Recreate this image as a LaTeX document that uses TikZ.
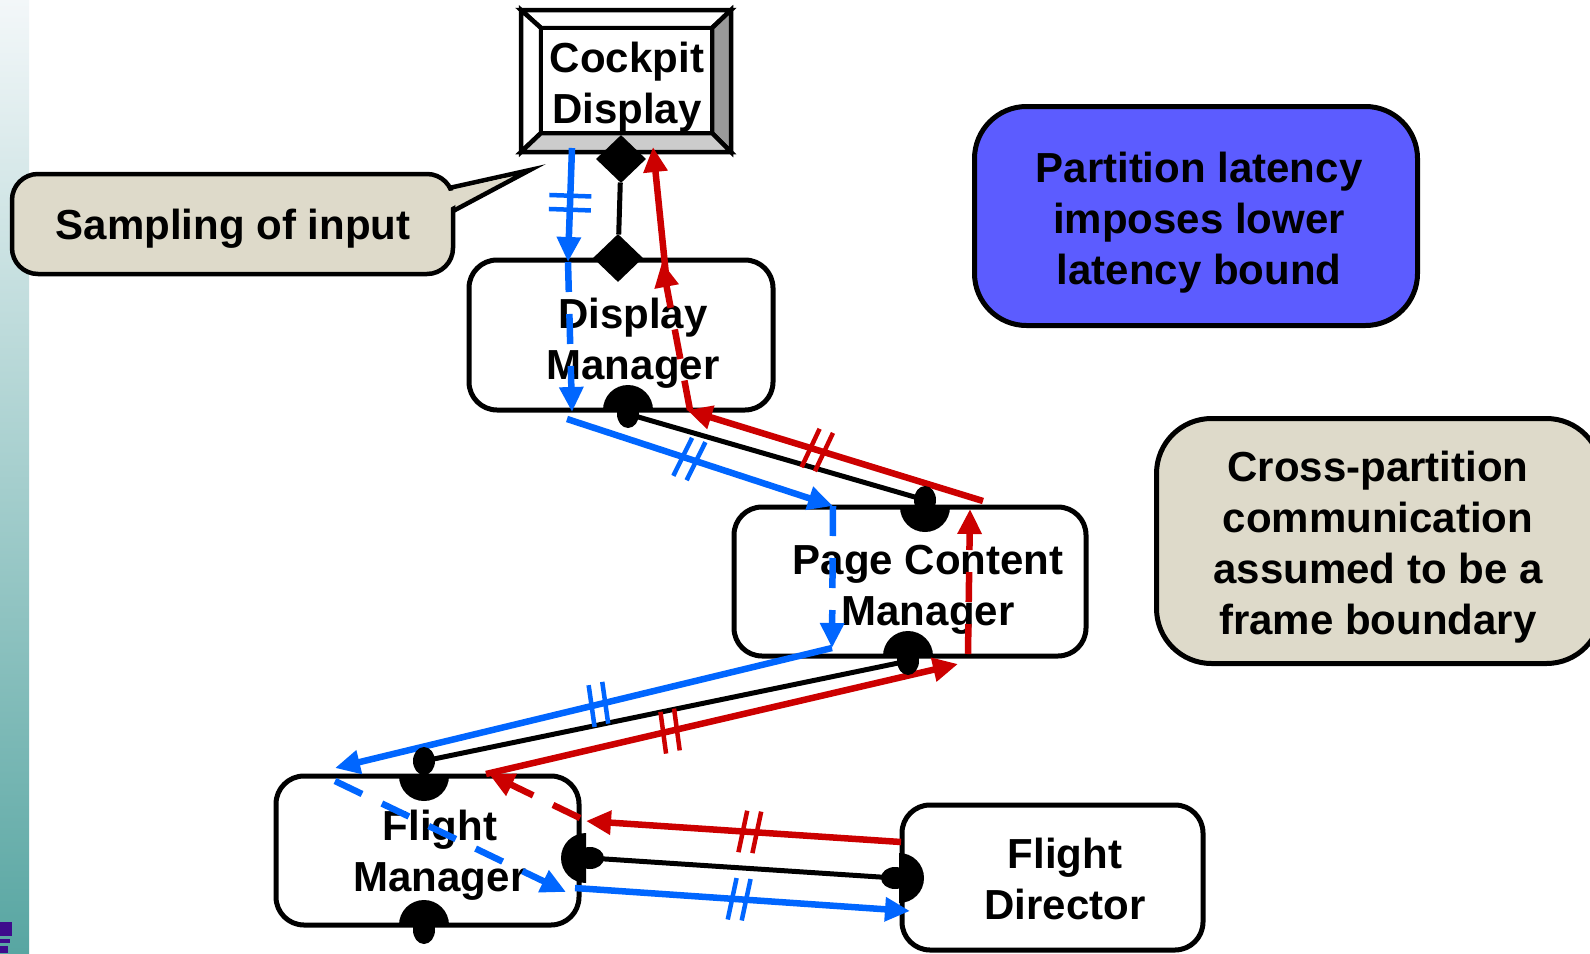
\documentclass[tikz,border=0pt]{standalone}
\usepackage{fontspec}
\setmainfont{Liberation Sans}
\usetikzlibrary{arrows.meta,decorations.markings,shapes.geometric}

\definecolor{flowblue}{RGB}{0,102,255}
\definecolor{flowred}{RGB}{204,0,0}
\definecolor{notetan}{RGB}{222,218,202}
\definecolor{noteblue}{RGB}{92,92,255}
\definecolor{bevelgray}{RGB}{153,153,153}
\definecolor{bevellight}{RGB}{204,204,204}
\definecolor{striptop}{RGB}{243,247,249}
\definecolor{stripbottom}{RGB}{88,166,162}
\definecolor{iconpurple}{RGB}{62,12,140}

\tikzset{
  lbl/.style={font=\fontsize{42}{51}\selectfont\bfseries, align=center, inner sep=0pt},
  comp/.style={draw, line width=5pt, rounded corners=28pt, fill=white, inner sep=0pt},
  notebox/.style={draw, line width=5pt, inner sep=0pt},
  flow/.style={line width=6.5pt, -{Triangle[length=25pt,width=23pt]}},
  bflow/.style={flow, draw=flowblue},
  rflow/.style={flow, draw=flowred},
  inside/.style={dash pattern=on 30pt off 22pt},
  brk/.style n args={3}{postaction={decorate},
    decoration={markings, mark=at position #1 with {
      \draw[-, draw=#2, line width=4.5pt, solid]
        (-7pt-#3,-21pt) -- (-7pt+#3,21pt)
        (7pt-#3,-21pt) -- (7pt+#3,21pt);}}},
  link/.style={line width=5pt},
  portsym/.pic={
    \fill (-25pt,0pt) arc[start angle=180,end angle=0,radius=25pt] -- cycle;
    \fill (0pt,-#1) ellipse[x radius=11pt,y radius=14pt];},
  ioport/.style={diamond, fill=black, minimum width=50pt, minimum height=48pt, inner sep=0pt},
}

\begin{document}
\begin{tikzpicture}[x=1pt,y=-1pt]
\useasboundingbox (0,0) rectangle (1590,953);
\clip (0,0) rectangle (1590,953);
\fill[white] (0,0) rectangle (1590,953);

% side strip and logo corner
\shade[top color=striptop, bottom color=stripbottom] (0,0) rectangle (29,953);
\fill[iconpurple] (0,922) rectangle (12,936);
\fill[iconpurple] (0,939) rectangle (10,943);
\fill[iconpurple] (0,946) rectangle (8,953);

% notes
\node[notebox, fill=noteblue, rounded corners=52pt, minimum width=443pt, minimum height=219pt] (latency) at (1196,216) {};
\node[lbl] (latencyText) at (1199,223) {Partition latency\\imposes lower\\latency bound};

\node[notebox, fill=notetan, rounded corners=55pt, minimum width=445pt, minimum height=245pt] (frame) at (1379,541) {};
\node[lbl] (frameText) at (1378,547) {Cross-partition\\communication\\assumed to be a\\frame boundary};

% sampling callout: pointer, body, then patch over the joint
\filldraw[fill=notetan, line width=4.5pt, line join=miter] (440,190) -- (530,170) -- (440,218) -- cycle;
\filldraw[fill=notetan, line width=4.5pt, rounded corners=26pt] (12,174) rectangle (453,274);
\fill[notetan] (446,192) -- (505,178) -- (446,210) -- cycle;
\node[lbl] (sampling) at (233,229) {Sampling of input};

% cockpit display with bevelled frame
\begin{scope}[line width=4.5pt, line join=miter]
  \filldraw[fill=white] (521,10) -- (731,10) -- (712,28) -- (541,28) -- cycle;
  \filldraw[fill=white] (521,10) -- (541,28) -- (541,133) -- (521,152) -- cycle;
  \filldraw[fill=bevelgray] (731,10) -- (731,152) -- (712,133) -- (712,28) -- cycle;
  \filldraw[fill=bevellight] (521,152) -- (731,152) -- (712,133) -- (541,133) -- cycle;
  \filldraw[fill=white] (541,28) rectangle (712,133);
\end{scope}
\node[lbl] (cd) at (627,87) {Cockpit\\Display};

% components
\node[comp, minimum width=304pt, minimum height=150pt] (dm) at (621,335) {};
\node[lbl] (dmText) at (633,343) {Display\\Manager};
\node[comp, minimum width=352pt, minimum height=149pt] (pcm) at (910,581.5) {};
\node[lbl] (pcmText) at (928,590) {Page Content\\Manager};
\node[comp, minimum width=303pt, minimum height=149pt] (fm) at (427.5,850.5) {};
\node[lbl] (fmText) at (440,855) {Flight\\Manager};
\node[comp, minimum width=301pt, minimum height=145pt] (fd) at (1052.5,877.5) {};
\node[lbl] (fdText) at (1065,879) {Flight\\Director};

% port positions
\node[ioport] (cdPort) at (621,159) {};
\node[ioport] (dmPortIn) at (618,258) {};
\coordinate (dmPortOut) at (628,414);
\coordinate (pcmPortIn) at (925,500);
\coordinate (pcmPortOut) at (908,661);
\coordinate (fmPortIn) at (424,761);
\coordinate (fmPortOut) at (590,858);
\coordinate (fdPort) at (895,878);

% port connections
\draw[link] (cdPort) -- (dmPortIn);
\draw[link] (dmPortOut) -- (pcmPortIn);
\draw[link] (pcmPortOut) -- (fmPortIn);
\draw[link] (fmPortOut) -- (fdPort);

% flow end points
\coordinate (b1s) at (572,148);  \coordinate (b1e) at (568,262);
\coordinate (b2e) at (572,412);
\coordinate (b3s) at (567,419);  \coordinate (b3e) at (833,506);
\coordinate (b4e) at (832,648);
\coordinate (b5e) at (335,768);
\coordinate (b6s) at (335,781);  \coordinate (b6e) at (566,892);
\coordinate (b7s) at (575,888);  \coordinate (b7e) at (910,911);

\coordinate (r1s) at (901,842);  \coordinate (r1e) at (586,821);
\coordinate (r2s) at (580,818);  \coordinate (r2e) at (489,774);
\coordinate (r3s) at (486,774);  \coordinate (r3e) at (958,664);
\coordinate (r4s) at (968,654);  \coordinate (r4e) at (970,509);
\coordinate (r5s) at (983,501);  \coordinate (r5e) at (687,410);
\coordinate (r6s) at (690,410);  \coordinate (r6e) at (662,262);
\coordinate (r7s) at (666,275);  \coordinate (r7e) at (653,147);

% downward (blue) flow
\draw[bflow, brk={0.48}{flowblue}{0pt}] (b1s) -- (b1e);
\draw[bflow, inside] (b1e) -- (b2e);
\draw[bflow, brk={0.46}{flowblue}{3pt}] (b3s) -- (b3e);
\draw[bflow, inside] (b3e) -- (b4e);
\draw[bflow, brk={0.47}{flowblue}{2pt}] (b4e) -- (b5e);
\draw[bflow, inside] (b6s) -- (b6e);
\draw[bflow, brk={0.49}{flowblue}{3pt}] (b7s) -- (b7e);

% upward (red) flow
\draw[rflow, brk={0.48}{flowred}{3pt}] (r1s) -- (r1e);
\draw[rflow, inside] (r2s) -- (r2e);
\draw[rflow, brk={0.39}{flowred}{2pt}] (r3s) -- (r3e);
\draw[rflow, inside] (r4s) -- (r4e);
\draw[rflow, brk={0.56}{flowred}{3pt}] (r5s) -- (r5e);
\draw[rflow, inside] (r6s) -- (r6e);
\draw[rflow] (r7s) -- (r7e);

% port symbols
\pic at (628,410) {portsym=4pt};
\pic[rotate=180] at (925,507) {portsym=7pt};
\pic at (908,656) {portsym=5pt};
\pic[rotate=180] at (424,776) {portsym=15pt};
\pic[rotate=90] at (586,858) {portsym=4pt};
\pic at (424,925) {portsym=5pt};
\pic[rotate=-90] at (899,878) {portsym=4pt};
\end{tikzpicture}
\end{document}
